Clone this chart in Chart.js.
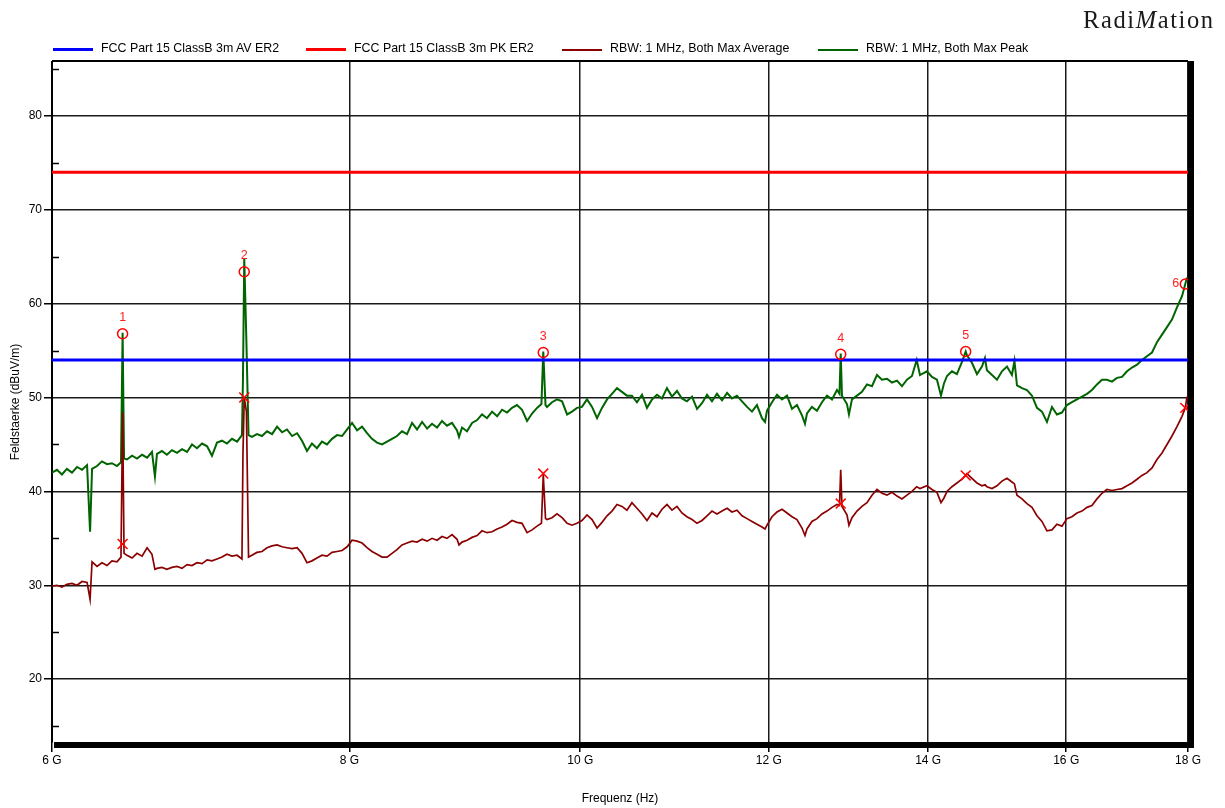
<!DOCTYPE html>
<html>
<head>
<meta charset="utf-8">
<script src="https://cdn.jsdelivr.net/npm/chart.js@4.4.0/dist/chart.umd.min.js"></script>
<style>
  html, body { margin: 0; padding: 0; background: #fff; }
  #wrap { position: relative; width: 1225px; height: 808px; overflow: hidden; }
  #chart { position: absolute; left: 0; top: 0; }
  .legItem { position: absolute; top: 40px; height: 16px; white-space: nowrap;
             font: 12.4px "Liberation Sans", Arial, sans-serif; color: #000; }
  .legLine { position: absolute; left: 0; }
  .legText { position: absolute; left: 48px; top: 0; line-height: 16px; }
  #logo { position: absolute; left: 1083px; top: 8px; font: 24.5px "Liberation Serif", "Times New Roman", serif;
          color: #1a1a1a; letter-spacing: 1.6px; line-height: 24px; white-space: nowrap; }
</style>
</head>
<body>
<div id="wrap">
  <canvas id="chart" width="1225" height="808"></canvas>
  <div id="legend"></div>
  <div id="logo">Radi<i>M</i>ation</div>
</div>
<script>
// ---------------- data ----------------
const seriesNames = [
  'FCC Part 15 ClassB 3m AV ER2',
  'FCC Part 15 ClassB 3m PK ER2',
  'RBW: 1 MHz, Both Max Average',
  'RBW: 1 MHz, Both Max Peak'
];

const limitFreqs = [6, 18];
const avLimitValues = [54, 54];
const pkLimitValues = [74, 74];

const traceFreqs = [
  6.000, 6.029, 6.058, 6.087, 6.117, 6.147, 6.177, 6.207, 6.225, 6.237,
  6.267, 6.297, 6.328, 6.358, 6.389, 6.414, 6.424, 6.433, 6.451, 6.483,
  6.514, 6.546, 6.578, 6.609, 6.628, 6.641, 6.673, 6.705, 6.738, 6.771,
  6.804, 6.837, 6.870, 6.903, 6.937, 6.971, 7.004, 7.038, 7.072, 7.106,
  7.141, 7.176, 7.210, 7.217, 7.226, 7.241, 7.256, 7.280, 7.315, 7.351,
  7.387, 7.423, 7.459, 7.495, 7.531, 7.568, 7.605, 7.641, 7.678, 7.715,
  7.752, 7.790, 7.828, 7.866, 7.904, 7.943, 7.982, 8.020, 8.059, 8.098,
  8.137, 8.176, 8.216, 8.256, 8.296, 8.336, 8.376, 8.417, 8.458, 8.499,
  8.540, 8.582, 8.624, 8.665, 8.707, 8.749, 8.791, 8.834, 8.877, 8.894,
  8.920, 8.963, 9.007, 9.051, 9.094, 9.138, 9.183, 9.228, 9.272, 9.317,
  9.362, 9.407, 9.453, 9.499, 9.545, 9.591, 9.632, 9.649, 9.670, 9.684,
  9.731, 9.778, 9.826, 9.874, 9.921, 9.969, 10.017, 10.066, 10.115, 10.164,
  10.213, 10.263, 10.312, 10.362, 10.412, 10.462, 10.513, 10.564, 10.616, 10.667,
  10.719, 10.771, 10.823, 10.875, 10.928, 10.981, 11.034, 11.087, 11.142, 11.196,
  11.250, 11.305, 11.359, 11.414, 11.470, 11.526, 11.581, 11.637, 11.694, 11.751,
  11.807, 11.864, 11.922, 11.957, 11.980, 12.038, 12.096, 12.155, 12.214, 12.273,
  12.332, 12.392, 12.428, 12.452, 12.512, 12.573, 12.634, 12.695, 12.757, 12.819,
  12.850, 12.865, 12.881, 12.943, 12.968, 13.006, 13.069, 13.132, 13.196, 13.260,
  13.324, 13.389, 13.454, 13.519, 13.585, 13.650, 13.716, 13.783, 13.846, 13.890,
  13.984, 14.052, 14.120, 14.175, 14.216, 14.258, 14.326, 14.395, 14.466, 14.518,
  14.536, 14.606, 14.677, 14.748, 14.791, 14.819, 14.892, 14.964, 15.036, 15.109,
  15.182, 15.219, 15.256, 15.330, 15.404, 15.479, 15.554, 15.629, 15.705, 15.781,
  15.857, 15.934, 16.011, 16.089, 16.167, 16.246, 16.325, 16.403, 16.483, 16.563,
  16.643, 16.724, 16.805, 16.887, 16.969, 17.051, 17.134, 17.216, 17.299, 17.384,
  17.468, 17.553, 17.638, 17.723, 17.809, 17.896, 17.953, 17.983
];

const peakValues = [
  42.0, 42.3, 41.8, 42.4, 42.0, 42.6, 42.3, 42.8, 35.7, 42.4,
  42.7, 43.2, 42.9, 43.0, 42.7, 43.1, 56.9, 43.5, 43.4, 43.8,
  43.5, 43.9, 43.6, 44.2, 41.6, 44.0, 44.3, 43.9, 44.4, 44.1,
  44.5, 44.2, 45.0, 44.6, 45.1, 44.8, 43.8, 45.2, 45.4, 45.1,
  45.6, 45.3, 46.0, 52.0, 64.8, 56.0, 46.0, 45.8, 46.1, 45.9,
  46.4, 46.1, 46.9, 46.3, 46.6, 45.9, 46.2, 45.4, 44.3, 45.1,
  44.6, 45.3, 45.0, 45.6, 46.0, 45.9, 46.6, 47.3, 46.5, 46.9,
  46.2, 45.6, 45.2, 45.0, 45.3, 45.6, 45.9, 46.4, 46.1, 47.3,
  46.6, 47.4, 46.7, 47.2, 46.8, 47.5, 47.0, 47.3, 46.5, 45.8,
  46.8, 46.4, 47.3, 47.6, 48.2, 47.8, 48.5, 48.0, 48.7, 48.4,
  48.9, 49.2, 48.7, 47.5, 48.3, 48.9, 49.3, 54.9, 49.2, 49.0,
  49.5, 49.8, 49.6, 48.2, 48.5, 48.9, 49.0, 49.8, 49.0, 47.8,
  48.9, 49.8, 50.4, 51.0, 50.6, 50.2, 50.2, 49.5, 50.3, 48.9,
  49.8, 50.3, 49.9, 51.0, 50.1, 50.7, 49.9, 49.6, 50.1, 48.8,
  49.4, 50.3, 49.6, 50.4, 49.7, 50.5, 49.9, 50.2, 49.6, 49.0,
  48.5, 49.2, 47.8, 47.4, 48.6, 49.5, 50.3, 49.8, 50.2, 48.8,
  49.2, 48.1, 47.2, 48.3, 49.0, 48.6, 49.5, 50.2, 49.8, 50.8,
  50.4, 54.7, 50.2, 49.3, 48.2, 49.8, 50.2, 50.6, 51.4, 51.2,
  52.4, 51.9, 52.0, 51.6, 51.8, 51.2, 51.9, 52.3, 54.0, 52.4,
  52.8, 52.2, 51.9, 50.2, 51.5, 52.3, 52.8, 52.5, 53.8, 54.9,
  54.5, 53.7, 52.5, 53.3, 54.2, 52.9, 52.4, 51.9, 52.8, 53.3,
  52.4, 53.9, 51.3, 51.0, 50.8, 50.2, 48.9, 48.5, 47.4, 49.0,
  48.2, 48.4, 49.2, 49.5, 49.8, 50.1, 50.4, 50.8, 51.4, 51.9,
  51.9, 51.7, 52.1, 52.2, 52.8, 53.2, 53.5, 54.0, 54.4, 54.8,
  55.9, 56.7, 57.5, 58.3, 59.6, 60.8, 62.1, 62.8
];

const avgValues = [
  29.9, 30.0, 29.8, 30.1, 30.2, 30.0, 30.4, 30.3, 28.5, 32.5,
  32.0, 32.4, 32.1, 32.6, 32.5, 33.0, 48.4, 33.4, 33.2, 32.9,
  33.4, 33.1, 34.0, 33.3, 31.7, 31.8, 31.9, 31.7, 31.9, 32.0,
  31.8, 32.2, 32.1, 32.4, 32.3, 32.7, 32.6, 32.8, 33.0, 33.3,
  33.1, 33.2, 32.8, 44.0, 50.0, 48.5, 33.0, 33.2, 33.5, 33.6,
  34.0, 34.2, 34.3, 34.1, 34.0, 33.9, 34.0, 33.4, 32.4, 32.6,
  32.9, 33.2, 33.1, 33.5, 33.6, 33.7, 34.1, 34.8, 34.7, 34.5,
  34.0, 33.6, 33.3, 33.0, 33.0, 33.4, 33.8, 34.3, 34.5, 34.7,
  34.6, 34.9, 34.7, 35.0, 34.8, 35.2, 35.0, 35.4, 34.9, 34.3,
  34.6, 34.8, 35.1, 35.3, 35.8, 35.6, 35.7, 36.0, 36.2, 36.5,
  36.9, 36.7, 36.6, 35.6, 35.9, 36.3, 36.6, 41.8, 37.1, 37.0,
  37.2, 37.6, 37.2, 36.6, 36.4, 36.6, 36.9, 37.5, 37.0, 36.1,
  36.7, 37.4, 37.9, 38.6, 38.4, 38.0, 38.8, 38.2, 37.6, 36.9,
  37.7, 37.3, 38.1, 38.6, 38.0, 38.4, 37.7, 37.3, 37.0, 36.6,
  36.9, 37.4, 37.9, 37.6, 37.9, 38.2, 37.8, 38.0, 37.4, 37.1,
  36.8, 36.5, 36.2, 36.0, 36.4, 37.3, 37.8, 38.1, 37.7, 37.3,
  37.0, 36.1, 35.3, 36.0, 36.8, 37.1, 37.6, 37.9, 38.3, 38.6,
  38.5, 42.3, 38.4, 37.5, 36.4, 37.2, 37.9, 38.4, 38.8, 39.6,
  40.2, 39.8, 39.6, 39.9, 39.5, 39.2, 39.6, 40.0, 40.5, 40.3,
  40.6, 40.2, 39.9, 38.8, 39.3, 40.0, 40.5, 40.9, 41.3, 41.7,
  41.9, 41.4, 40.9, 40.6, 40.7, 40.5, 40.3, 40.6, 41.1, 41.4,
  41.0, 40.8, 39.6, 39.2, 38.7, 38.3, 37.4, 36.8, 35.8, 35.9,
  36.5, 36.3, 37.1, 37.3, 37.7, 37.9, 38.3, 38.5, 39.2, 39.8,
  40.2, 40.1, 40.2, 40.3, 40.6, 40.9, 41.3, 41.7, 42.0, 42.5,
  43.4, 44.1, 45.0, 45.9, 46.9, 48.0, 48.9, 50.1
];

const markerLabels = ['1', '2', '3', '4', '5', '6'];
const markerFreqs = [6.424, 7.226, 9.649, 12.865, 14.518, 17.953];
const peakMarkerValues = [56.8, 63.4, 54.8, 54.6, 54.9, 62.1];
const avgMarkerValues = [34.4, 50.0, 41.9, 38.7, 41.7, 48.9];

const xTickValues = [6, 8, 10, 12, 14, 16, 18];
const xTickLabels = ['6 G', '8 G', '10 G', '12 G', '14 G', '16 G', '18 G'];
const yTickValues = [20, 30, 40, 50, 60, 70, 80];
const yMinorTickValues = [15, 25, 35, 45, 55, 65, 75, 85];
const yRange = [13.3, 85.75];

// ---------------- helpers ----------------
const pts = (xs, ys) => xs.map((x, i) => ({ x: x, y: ys[i] }));
const FONT = '"Liberation Sans", Arial, sans-serif';
Chart.defaults.font.family = FONT;
Chart.defaults.color = '#000';

const colors = { av: '#0000ff', pk: '#ff0000', avg: '#8b0000', peak: '#006400', marker: '#ff0000' };

// legend (HTML, real text)
const legendDefs = [
  { name: seriesNames[0], color: colors.av, lw: 3, left: 53 },
  { name: seriesNames[1], color: colors.pk, lw: 3, left: 306 },
  { name: seriesNames[2], color: colors.avg, lw: 2, left: 562 },
  { name: seriesNames[3], color: colors.peak, lw: 2, left: 818 }
];
const legendEl = document.getElementById('legend');
legendDefs.forEach(d => {
  const item = document.createElement('div');
  item.className = 'legItem';
  item.style.left = d.left + 'px';
  const line = document.createElement('div');
  line.className = 'legLine';
  line.style.width = '40px';
  line.style.height = d.lw + 'px';
  line.style.top = (9.5 - d.lw / 2) + 'px';
  line.style.background = d.color;
  const txt = document.createElement('div');
  txt.className = 'legText';
  txt.textContent = d.name;
  item.appendChild(line);
  item.appendChild(txt);
  legendEl.appendChild(item);
});

// frame plugin: top line, thick right/bottom bands, inner minor ticks
const framePlugin = {
  id: 'frame',
  afterDraw(chart) {
    const { ctx, chartArea: a, scales } = chart;
    ctx.save();
    ctx.fillStyle = '#000';
    ctx.fillRect(a.left, a.top - 2, a.right - a.left, 2);
    ctx.fillRect(a.right, a.top - 1, 6, a.bottom - a.top + 7);
    ctx.fillRect(a.left + 2, a.bottom, a.right - a.left + 4, 6);
    ctx.strokeStyle = '#000';
    ctx.lineWidth = 1.5;
    yMinorTickValues.forEach(v => {
      const y = Math.round(scales.y.getPixelForValue(v)) + 0.5;
      ctx.beginPath();
      ctx.moveTo(a.left, y);
      ctx.lineTo(a.left + 7, y);
      ctx.stroke();
    });
    ctx.restore();
  }
};

// marker number labels
const markerLabelPlugin = {
  id: 'markerLabels',
  afterDatasetsDraw(chart) {
    const meta = chart.getDatasetMeta(0);
    const { ctx, chartArea: a } = chart;
    ctx.save();
    ctx.font = '12.5px ' + FONT;
    ctx.fillStyle = '#ff2020';
    ctx.textBaseline = 'middle';
    meta.data.forEach((p, i) => {
      if (p.x > a.right - 20) {
        ctx.textAlign = 'right';
        ctx.fillText(markerLabels[i], p.x - 6, p.y);
      } else {
        ctx.textAlign = 'center';
        ctx.fillText(markerLabels[i], p.x, p.y - 16);
      }
    });
    ctx.restore();
  }
};

new Chart(document.getElementById('chart'), {
  type: 'scatter',
  data: {
    datasets: [
      { label: 'Peak markers', data: pts(markerFreqs, peakMarkerValues), showLine: false,
        pointStyle: 'circle', pointRadius: 5, borderColor: colors.marker, backgroundColor: 'rgba(0,0,0,0)',
        pointBorderWidth: 1.5, order: 0 },
      { label: 'Average markers', data: pts(markerFreqs, avgMarkerValues), showLine: false,
        pointStyle: 'crossRot', pointRadius: 7, borderColor: colors.marker, backgroundColor: colors.marker,
        pointBorderWidth: 1.5, order: 0 },
      { label: seriesNames[0], data: pts(limitFreqs, avLimitValues), showLine: true, pointRadius: 0,
        borderColor: colors.av, backgroundColor: colors.av, borderWidth: 3, order: 1 },
      { label: seriesNames[1], data: pts(limitFreqs, pkLimitValues), showLine: true, pointRadius: 0,
        borderColor: colors.pk, backgroundColor: colors.pk, borderWidth: 3, order: 1 },
      { label: seriesNames[2], data: pts(traceFreqs, avgValues), showLine: true, pointRadius: 0,
        borderColor: colors.avg, backgroundColor: colors.avg, borderWidth: 1.7, order: 2 },
      { label: seriesNames[3], data: pts(traceFreqs, peakValues), showLine: true, pointRadius: 0,
        borderColor: colors.peak, backgroundColor: colors.peak, borderWidth: 2, order: 3 }
    ]
  },
  options: {
    responsive: false,
    animation: false,
    devicePixelRatio: 1,
    events: [],
    layout: { padding: { top: 62, right: 37, bottom: 0, left: 0 } },
    plugins: { legend: { display: false }, tooltip: { enabled: false } },
    scales: {
      x: {
        type: 'logarithmic',
        position: 'bottom',
        min: 6, max: 18,
        afterBuildTicks: s => { s.ticks = xTickValues.map(v => ({ value: v })); },
        afterFit: s => { s.height = 66; },
        ticks: { autoSkip: false, maxRotation: 0, padding: 1, color: '#000',
                 font: { size: 12 }, callback: (v, i) => xTickLabels[i] },
        grid: { color: '#1a1a1a', lineWidth: 1.5, drawTicks: true, tickLength: 10,
                tickColor: '#000', tickWidth: 1.5 },
        border: { display: false },
        title: { display: true, text: 'Frequenz (Hz)', color: '#000', font: { size: 12 },
                 padding: { top: 0, bottom: 2 } }
      },
      y: {
        type: 'linear',
        min: yRange[0], max: yRange[1],
        afterBuildTicks: s => { s.ticks = yTickValues.map(v => ({ value: v })); },
        afterFit: s => { s.width = 52; },
        ticks: { padding: 2, color: '#000', font: { size: 12 } },
        grid: { color: '#1a1a1a', lineWidth: 1.5, tickLength: 8, tickColor: '#000', tickWidth: 1.5 },
        border: { display: true, color: '#000', width: 2 },
        title: { display: true, text: 'Feldstaerke (dBuV/m)', color: '#000', font: { size: 12 },
                 padding: { top: 8, bottom: 0 } }
      }
    }
  },
  plugins: [framePlugin, markerLabelPlugin]
});
</script>
</body>
</html>
